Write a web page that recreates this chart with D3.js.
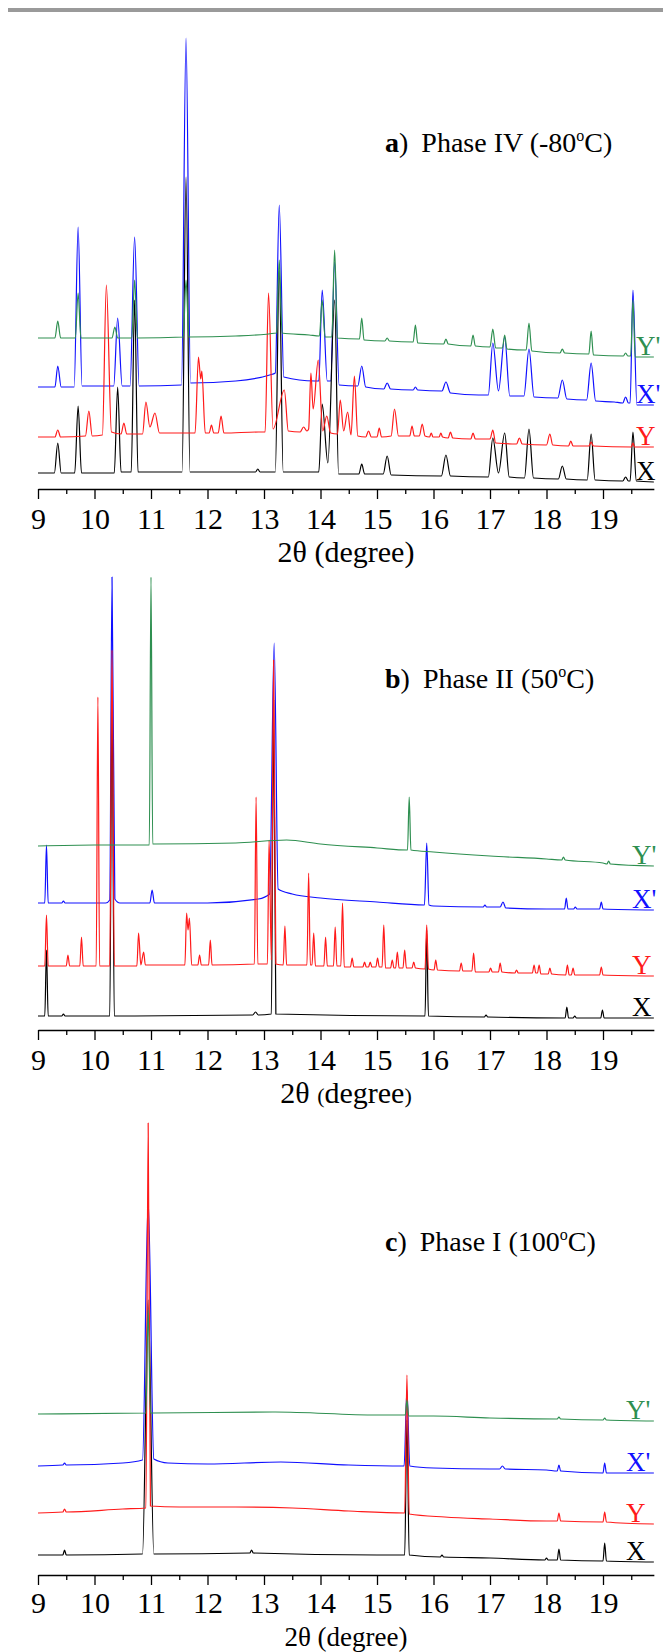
<!DOCTYPE html>
<html>
<head>
<meta charset="utf-8">
<script src="https://cdn.jsdelivr.net/npm/d3@7"></script>
<style>
  body { margin: 0; background: #fff; }
  svg { display: block; }
</style>
</head>
<body>
<svg id="chart"></svg>
<script>
const width = 663;
const height = 1652;

// 2theta range and ticks
const xDomain = [9, 19.9];
const majorTicks = [9, 10, 11, 12, 13, 14, 15, 16, 17, 18, 19];
const minorTicks = [9.5, 10.5, 11.5, 12.5, 13.5, 14.5, 15.5, 16.5, 17.5, 18.5, 19.5];

const seriesNames = ["X", "Y", "X'", "Y'"];
const seriesColors = ["#000000", "#ff1a1a", "#1010ff", "#2e8f50"];

// ---- a) Phase IV (-80C) : [2theta, intensity (a.u., stacked)] ----
const phaseIV_X = [[9.0,16],[9.29,16],[9.35,46],[9.41,16],[9.65,16],[9.71,83],[9.77,16],[10.35,16],[10.41,102],[10.47,17],[10.65,17],[10.71,189],[10.77,17],[11.55,17],[11.62,312],[11.69,17],[12.85,17],[12.89,20],[12.93,17],[13.2,17],[13.27,219],[13.34,17],[13.97,17],[14.03,85],[14.13,26],[14.25,189],[14.32,15],[14.68,15],[14.73,25],[14.78,15],[15.11,15],[15.18,33],[15.25,14],[16.14,13],[16.22,34],[16.3,13],[16.97,12],[17.05,51],[17.15,16],[17.26,56],[17.34,12],[17.61,11],[17.69,60],[17.77,11],[18.21,10],[18.28,23],[18.35,10],[18.72,9],[18.79,55],[18.86,9],[19.35,8],[19.4,12],[19.45,8],[19.48,8],[19.53,57],[19.59,8],[19.9,7]];
const phaseIV_Y = [[9.0,52],[9.3,52],[9.35,59],[9.4,52],[9.84,53],[9.9,78],[9.96,53],[10.14,54],[10.21,204],[10.3,57],[10.47,55],[10.52,66],[10.57,55],[10.85,55],[10.91,87],[10.98,62],[11.07,76],[11.15,56],[11.78,56],[11.84,132],[11.88,110],[11.9,118],[11.96,56],[12.03,56],[12.07,64],[12.11,56],[12.19,56],[12.24,73],[12.29,56],[12.9,57],[13.02,57],[13.08,196],[13.16,60],[13.36,99],[13.43,58],[13.64,57],[13.7,62],[13.76,58],[13.79,60],[13.83,116],[13.87,80],[13.96,129],[14.04,58],[14.11,73],[14.18,56],[14.3,55],[14.35,89],[14.41,58],[14.48,77],[14.54,54],[14.6,113],[14.66,53],[14.8,52],[14.85,58],[14.9,52],[15.0,52],[15.04,61],[15.08,52],[15.25,53],[15.31,80],[15.38,53],[15.58,53],[15.62,63],[15.66,53],[15.75,53],[15.8,65],[15.85,53],[15.93,52],[15.96,56],[15.99,52],[16.1,52],[16.13,56],[16.16,52],[16.26,51],[16.3,57],[16.34,51],[16.66,50],[16.7,56],[16.74,50],[17.0,50],[17.05,59],[17.1,46],[17.47,45],[17.52,51],[17.57,45],[18.0,44],[18.06,55],[18.11,44],[18.39,43],[18.43,48],[18.47,43],[18.75,43],[18.79,47],[18.83,43],[19.5,42],[19.53,46],[19.56,42],[19.9,42]];
const phaseIV_Xp = [[9.0,102],[9.3,102],[9.35,123],[9.41,102],[9.64,102],[9.71,262],[9.78,103],[10.34,103],[10.41,171],[10.49,103],[10.63,103],[10.71,252],[10.79,103],[11.54,104],[11.62,451],[11.7,106],[12.5,108],[13.1,114],[13.2,116],[13.27,284],[13.35,112],[13.9,108],[13.97,108],[14.03,199],[14.12,108],[14.18,108],[14.25,227],[14.33,104],[14.66,103],[14.73,123],[14.8,102],[15.12,100],[15.18,106],[15.24,100],[15.64,99],[15.68,102],[15.72,99],[16.15,98],[16.22,107],[16.3,96],[16.8,94],[16.97,94],[17.05,146],[17.15,98],[17.26,152],[17.35,93],[17.6,93],[17.69,140],[17.78,92],[18.2,91],[18.28,109],[18.36,90],[18.71,89],[18.79,126],[18.87,88],[19.2,87],[19.35,86],[19.4,92],[19.45,86],[19.48,86],[19.53,199],[19.6,84],[19.9,84]];
const phaseIV_Yp = [[9.0,151],[9.3,151],[9.35,168],[9.4,151],[9.66,151],[9.71,196],[9.76,151],[10.31,151],[10.36,162],[10.41,151],[10.66,151],[10.71,209],[10.76,151],[11.57,152],[11.62,209],[11.67,152],[12.5,153],[13.22,156],[13.27,229],[13.32,156],[13.8,154],[13.98,153],[14.03,189],[14.08,152],[14.2,152],[14.25,239],[14.3,151],[14.69,150],[14.73,171],[14.77,149],[15.14,148],[15.18,151],[15.22,148],[15.64,147],[15.68,164],[15.72,146],[16.18,145],[16.22,150],[16.26,145],[16.66,143],[16.7,154],[16.74,143],[17.0,142],[17.05,160],[17.1,141],[17.22,141],[17.26,154],[17.3,140],[17.64,139],[17.69,166],[17.74,138],[18.24,136],[18.28,140],[18.32,136],[18.75,135],[18.79,158],[18.83,134],[19.36,133],[19.4,136],[19.44,133],[19.49,133],[19.53,189],[19.57,132],[19.9,132]];

// ---- b) Phase II (50C) ----
const phaseII_X = [[9.0,14],[9.12,14],[9.15,80],[9.18,14],[9.42,14],[9.45,16],[9.48,14],[10.27,14],[10.31,330],[10.35,14],[12.8,15],[12.85,18],[12.9,15],[13.13,16],[13.17,330],[13.21,16],[15.85,14],[15.88,100],[15.91,14],[16.9,13],[16.93,15],[16.96,13],[18.33,12],[18.36,23],[18.39,12],[18.47,12],[18.5,14],[18.53,12],[18.96,12],[18.99,20],[19.02,12],[19.9,12]];
const phaseII_Y = [[9.0,64],[9.12,64],[9.15,115],[9.18,64],[9.5,64],[9.53,75],[9.56,64],[9.74,64],[9.77,93],[9.8,64],[10.03,64],[10.06,333],[10.09,64],[10.27,64],[10.31,380],[10.35,64],[10.75,64],[10.78,97],[10.82,65],[10.87,78],[10.9,65],[11.6,65],[11.63,117],[11.655,100],[11.68,112],[11.72,65],[11.83,65],[11.86,75],[11.89,65],[12.02,65],[12.05,90],[12.08,65],[12.83,66],[12.86,233],[12.89,66],[13.06,66],[13.09,190],[13.13,70],[13.17,370],[13.21,66],[13.34,65],[13.37,104],[13.4,65],[13.76,65],[13.79,157],[13.82,65],[13.85,65],[13.88,97],[13.91,64],[14.06,64],[14.09,93],[14.12,64],[14.23,64],[14.26,103],[14.29,64],[14.36,64],[14.39,127],[14.42,63],[14.53,63],[14.56,72],[14.59,63],[14.75,63],[14.78,68],[14.81,63],[14.85,63],[14.88,68],[14.91,63],[14.98,63],[15.01,72],[15.04,63],[15.09,63],[15.12,105],[15.15,62],[15.24,62],[15.27,70],[15.3,62],[15.33,62],[15.36,78],[15.39,62],[15.46,62],[15.49,80],[15.52,62],[15.62,62],[15.65,68],[15.68,62],[15.85,61],[15.88,105],[15.91,61],[16.01,60],[16.04,70],[16.07,60],[16.46,59],[16.49,67],[16.52,59],[16.68,59],[16.71,77],[16.74,58],[16.98,58],[17.01,62],[17.04,58],[17.15,58],[17.18,67],[17.21,58],[17.44,57],[17.47,60],[17.5,57],[17.75,57],[17.78,65],[17.81,57],[17.84,57],[17.87,65],[17.9,56],[18.03,56],[18.06,62],[18.09,56],[18.34,55],[18.37,65],[18.4,55],[18.44,55],[18.47,62],[18.5,55],[18.94,55],[18.97,63],[19.0,55],[19.9,54]];
const phaseII_Xp = [[9.0,127],[9.12,127],[9.15,185],[9.18,127],[9.42,127],[9.45,129],[9.48,127],[10.2,127],[10.27,130],[10.31,453],[10.36,131],[10.45,127],[10.98,127],[11.02,140],[11.06,127],[12.0,127],[12.9,131],[13.1,136],[13.18,387],[13.25,141],[13.5,136],[14.0,132],[15.0,128],[15.84,125],[15.88,187],[15.92,125],[16.0,124],[16.88,123],[16.91,125],[16.94,123],[17.18,123],[17.23,128],[17.28,122],[18.0,121],[18.32,121],[18.35,132],[18.38,121],[18.48,121],[18.51,123],[18.54,121],[18.94,121],[18.97,128],[19.0,121],[19.9,120]];
const phaseII_Yp = [[9.0,184],[10.0,185],[10.97,185],[11.0,453],[11.03,186],[12.5,187],[13.4,190],[14.0,186],[15.0,182],[15.54,180],[15.57,233],[15.6,180],[16.0,178],[17.0,174],[18.0,171],[18.27,170],[18.3,173],[18.33,170],[19.0,167],[19.07,166],[19.1,169],[19.13,166],[19.9,164]];

// ---- c) Phase I (100C) ----
const phaseI_X = [[9.0,20],[9.44,20],[9.47,25],[9.5,20],[10.85,21],[10.95,275],[11.05,21],[12.75,22],[12.78,25],[12.81,22],[15.0,20],[15.49,20],[15.53,155],[15.57,20],[16.12,18],[16.15,20],[16.18,18],[17.0,17],[17.97,15],[18.0,17],[18.03,15],[18.19,15],[18.22,26],[18.25,15],[19.0,14],[19.03,32],[19.06,14],[19.9,13]];
const phaseI_Y = [[9.0,62],[9.44,63],[9.47,66],[9.5,63],[10.5,66],[10.91,67],[10.95,452],[10.99,69],[11.5,68],[12.5,68],[13.5,67],[14.5,64],[15.49,62],[15.53,200],[15.57,61],[16.2,58],[17.0,56],[18.0,54],[18.19,54],[18.22,62],[18.25,54],[19.0,53],[19.03,63],[19.06,53],[19.9,51]];
const phaseI_Xp = [[9.0,109],[9.44,110],[9.47,112],[9.5,110],[10.5,112],[10.85,115],[10.95,375],[11.05,116],[11.3,112],[12.0,111],[13.3,113],[14.5,110],[15.48,109],[15.53,185],[15.58,109],[16.0,107],[17.0,106],[17.17,106],[17.22,109],[17.27,106],[18.0,105],[18.19,104],[18.22,110],[18.25,104],[19.0,102],[19.03,112],[19.06,102],[19.9,102]];
const phaseI_Yp = [[9.0,161],[10.91,162],[10.95,265],[10.99,162],[13.2,163],[15.0,160],[15.5,160],[15.53,175],[15.56,159],[16.0,159],[17.0,157],[18.19,156],[18.22,158],[18.25,156],[19.0,155],[19.03,157],[19.06,155],[19.9,154]];

// panel layout
const panels = [
  { letter: "a", phase: "Phase IV (-80", series: [phaseIV_X, phaseIV_Y, phaseIV_Xp, phaseIV_Yp],
    axisY: 489, topY: 38, maxI: 451, titleY: 152, labelX: 636,
    tickPad: 9, xlabelDy: 73, xlabelSize: 30, smallParens: false },
  { letter: "b", phase: "Phase II (50", series: [phaseII_X, phaseII_Y, phaseII_Xp, phaseII_Yp],
    axisY: 1030, topY: 577, maxI: 453, titleY: 688, labelX: 632,
    tickPad: 9, xlabelDy: 73, xlabelSize: 30, smallParens: true },
  { letter: "c", phase: "Phase I (100", series: [phaseI_X, phaseI_Y, phaseI_Xp, phaseI_Yp],
    axisY: 1575, topY: 1123, maxI: 452, titleY: 1251, labelX: 626,
    tickPad: 7, xlabelDy: 71, xlabelSize: 27, smallParens: false },
];

// blue under black, red over black, green on top
const drawOrder = [2, 0, 1, 3];
const fontFamily = "'Liberation Serif', 'Times New Roman', serif";

const svg = d3.select("#chart")
  .attr("width", width)
  .attr("height", height)
  .style("background", "#fff");

// grey rule at the top of the page
svg.append("rect")
  .attr("x", 8).attr("y", 8)
  .attr("width", width - 8).attr("height", 4)
  .attr("fill", "#9a9a9a");

const x = d3.scaleLinear().domain(xDomain).range([38, 38 + 10.9 * 56.5]);

panels.forEach((p) => {
  const y = d3.scaleLinear().domain([0, p.maxI]).range([p.axisY, p.topY]);
  const g = svg.append("g");

  const line = d3.line()
    .x((d) => x(d[0]))
    .y((d) => y(d[1]))
    .curve(d3.curveMonotoneX);

  drawOrder.forEach((i) => {
    g.append("path")
      .datum(p.series[i])
      .attr("fill", "none")
      .attr("stroke", seriesColors[i])
      .attr("stroke-width", 1.2)
      .attr("stroke-linejoin", "round")
      .attr("d", line);
  });

  // series labels at the right end of each trace
  seriesNames.forEach((name, i) => {
    const last = p.series[i][p.series[i].length - 1];
    g.append("text")
      .attr("x", p.labelX)
      .attr("y", y(last[1]) - 2)
      .attr("fill", seriesColors[i])
      .style("font-family", fontFamily)
      .style("font-size", "27px")
      .text(name);
  });

  // x axis: major + minor ticks
  const axisG = g.append("g").attr("transform", `translate(0,${p.axisY})`);
  axisG.call(
    d3.axisBottom(x)
      .tickValues(majorTicks)
      .tickSize(10)
      .tickSizeOuter(0)
      .tickPadding(p.tickPad)
      .tickFormat(d3.format("d"))
  );
  axisG.select(".domain").attr("stroke-width", 1.5);
  axisG.selectAll(".tick line").attr("stroke-width", 1.3);
  axisG.selectAll(".tick text")
    .style("font-family", fontFamily)
    .style("font-size", "30px")
    .attr("fill", "#000");

  const minorG = g.append("g").attr("transform", `translate(0,${p.axisY})`);
  minorG.call(d3.axisBottom(x).tickValues(minorTicks).tickSize(5).tickFormat(""));
  minorG.select(".domain").remove();
  minorG.selectAll(".tick line").attr("stroke-width", 1.3);

  // axis title
  const fs = p.xlabelSize + "px";
  const xl = g.append("text")
    .attr("x", 346)
    .attr("y", p.axisY + p.xlabelDy)
    .attr("text-anchor", "middle")
    .style("font-family", fontFamily)
    .style("font-size", fs);
  xl.append("tspan").text("2\u03B8 ");
  xl.append("tspan").style("font-size", p.smallParens ? "22px" : fs).text("(");
  xl.append("tspan").text("degree");
  xl.append("tspan").style("font-size", p.smallParens ? "22px" : fs).text(")");

  // panel title, e.g. "a)  Phase IV (-80°C)"
  const t = g.append("text")
    .attr("x", 385)
    .attr("y", p.titleY)
    .style("font-family", fontFamily)
    .style("font-size", "28px");
  t.append("tspan").style("font-weight", "bold").text(p.letter);
  t.append("tspan").text(")");
  t.append("tspan").attr("dx", 13).text(p.phase);
  t.append("tspan").attr("dy", -11).style("font-size", "16px").text("o");
  t.append("tspan").attr("dy", 11).text("C)");
});
</script>
</body>
</html>
